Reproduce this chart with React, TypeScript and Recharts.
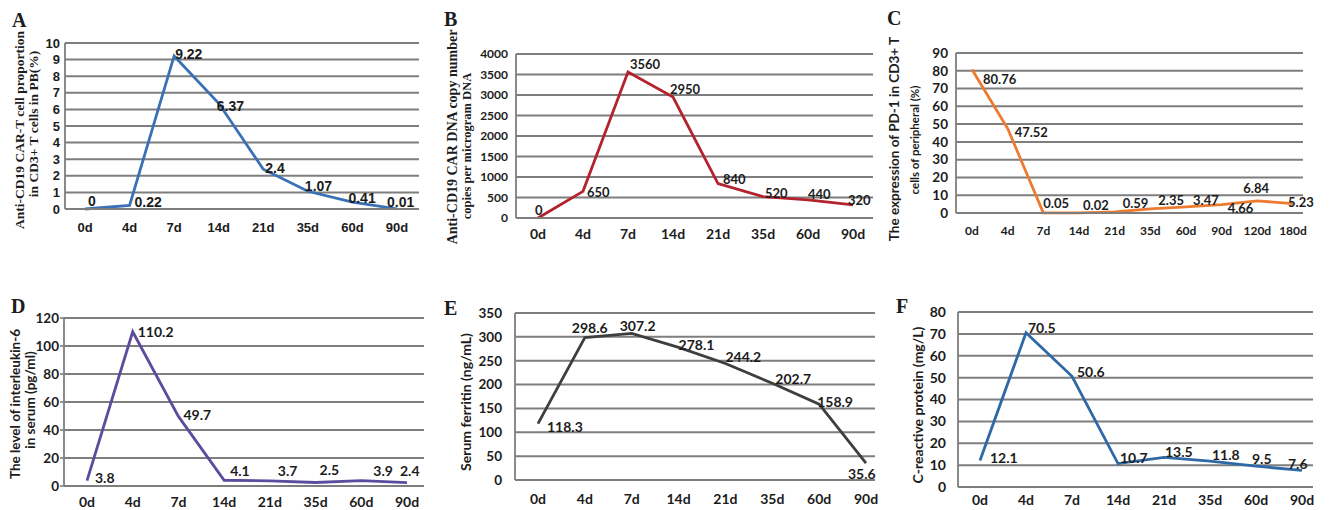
import { CartesianGrid, LabelList, Line, LineChart, XAxis, YAxis } from "recharts";

// Follow-up after CAR-T infusion: six small Excel-style line panels (A-F).
const DAYS_8 = ["0d", "4d", "7d", "14d", "21d", "35d", "60d", "90d"];
const DAYS_10 = ["0d", "4d", "7d", "14d", "21d", "35d", "60d", "90d", "120d", "180d"];

const CART_PCT = [0, 0.22, 9.22, 6.37, 2.4, 1.07, 0.41, 0.01];
const CAR_DNA = [0, 650, 3560, 2950, 840, 520, 440, 320];
const PD1_PCT = [80.76, 47.52, 0.05, 0.02, 0.59, 2.35, 3.47, 4.66, 6.84, 5.23];
const IL6 = [3.8, 110.2, 49.7, 4.1, 3.7, 2.5, 3.9, 2.4];
const FERRITIN = [118.3, 298.6, 307.2, 278.1, 244.2, 202.7, 158.9, 35.6];
const CRP = [12.1, 70.5, 50.6, 10.7, 13.5, 11.8, 9.5, 7.6];

const TICKS_A = [0, 1, 2, 3, 4, 5, 6, 7, 8, 9, 10];
const TICKS_B = [0, 500, 1000, 1500, 2000, 2500, 3000, 3500, 4000];
const TICKS_C = [0, 10, 20, 30, 40, 50, 60, 70, 80, 90];
const TICKS_D = [0, 20, 40, 60, 80, 100, 120];
const TICKS_E = [0, 50, 100, 150, 200, 250, 300, 350];
const TICKS_F = [0, 10, 20, 30, 40, 50, 60, 70, 80];

const INK = "#1c1c1c";
const GRID = "#7e7e7e";
const SANS = "Lato, 'Liberation Sans', sans-serif";
const ARIAL = "'Liberation Sans', Arial, sans-serif";
const SERIF = "'Liberation Serif', 'Times New Roman', serif";

type PanelProps = {
  box: [number, number, number, number];
  plot: [number, number, number, number];
  pad: [number, number];
  cats: string[];
  values: number[];
  ticks: number[];
  color: string;
  font: string;
  yFs: number;
  xFs: number;
  labelFs: number;
  xGap: number;
  yGap: number;
  yTick?: number;
  nudges: [number, number][];
};

function Panel(p: PanelProps) {
  const [bx, by, bw, bh] = p.box;
  const [l, t, r, b] = p.plot;
  const data = p.cats.map((d, i) => ({ d, v: p.values[i] }));
  const yTick = p.yTick ?? 0;

  const renderLabel = (props: any) => {
    const i = props.index ?? 0;
    const x = props.x ?? props.viewBox?.x;
    const y = props.y ?? props.viewBox?.y;
    const [dx, dy] = p.nudges[i] ?? [4, 2];
    return (
      <text
        key={i}
        x={x + dx}
        y={y + dy}
        fontSize={p.labelFs}
        fontWeight={700}
        fontFamily={p.font}
        fill={INK}
      >
        {props.value}
      </text>
    );
  };

  return (
    <div style={{ position: "absolute", left: bx, top: by }}>
      <LineChart
        width={bw}
        height={bh}
        data={data}
        margin={{ top: t - by, right: bx + bw - r, bottom: 0, left: 0 }}
      >
        <CartesianGrid vertical={false} stroke={GRID} strokeWidth={2} />
        <XAxis
          dataKey="d"
          height={by + bh - b}
          padding={{ left: p.pad[0], right: p.pad[1] }}
          tickLine={false}
          tickSize={0}
          tickMargin={p.xGap}
          axisLine={{ stroke: GRID, strokeWidth: 2 }}
          tick={{ fontSize: p.xFs, fontWeight: 700, fill: INK, fontFamily: p.font }}
          interval={0}
        />
        <YAxis
          width={l - bx}
          domain={[p.ticks[0], p.ticks[p.ticks.length - 1]]}
          ticks={p.ticks}
          tickLine={yTick > 0 ? { stroke: GRID, strokeWidth: 1.6 } : false}
          tickSize={yTick}
          tickMargin={p.yGap - yTick}
          axisLine={{ stroke: GRID, strokeWidth: 1.8 }}
          tick={{ fontSize: p.yFs, fontWeight: 700, fill: INK, fontFamily: p.font }}
          interval={0}
        />
        <Line
          type="linear"
          dataKey="v"
          stroke={p.color}
          strokeWidth={2.8}
          dot={false}
          activeDot={false}
          isAnimationActive={false}
        >
          <LabelList dataKey="v" content={renderLabel} />
        </Line>
      </LineChart>
    </div>
  );
}

function VTitle({ x, y, text, fs, font }: { x: number; y: number; text: string; fs: number; font: string }) {
  return (
    <text
      transform={`translate(${x},${y}) rotate(-90)`}
      textAnchor="middle"
      dominantBaseline="central"
      fontSize={fs}
      fontWeight={700}
      fontFamily={font}
      fill={INK}
    >
      {text}
    </text>
  );
}

function Letter({ x, y, ch }: { x: number; y: number; ch: string }) {
  return (
    <text x={x} y={y} fontSize={20} fontWeight={700} fontFamily={SERIF} fill={INK}>
      {ch}
    </text>
  );
}

export default function App() {
  return (
    <div
      style={{
        position: "fixed",
        left: 0,
        top: 0,
        width: 1330,
        height: 510,
        background: "#fff",
        overflow: "hidden",
      }}
    >
      <Panel
        box={[0, 0, 440, 250]}
        plot={[65, 43, 419, 209]}
        pad={[20, 22]}
        cats={DAYS_8}
        values={CART_PCT}
        ticks={TICKS_A}
        color="#3a70b5"
        font={ARIAL}
        yFs={13}
        xFs={13}
        labelFs={14}
        xGap={14}
        yGap={5}
        nudges={[[3, -3], [5, 2], [1, 3], [-2, 8], [2, 4], [-3, 0], [-4, 1], [-10, -2]]}
      />
      <Panel
        box={[440, 0, 440, 250]}
        plot={[516, 54, 873, 218]}
        pad={[22, 20]}
        cats={DAYS_8}
        values={CAR_DNA}
        ticks={TICKS_B}
        color="#b3222d"
        font={SANS}
        yFs={12}
        xFs={14}
        labelFs={13}
        xGap={11}
        yGap={8}
        nudges={[[-3, -3], [4, 6], [2, -3], [-3, -3], [5, 0], [2, 1], [0, -1], [-5, 0]]}
      />
      <Panel
        box={[880, 0, 450, 250]}
        plot={[956, 53, 1303, 213]}
        pad={[16, 10]}
        cats={DAYS_10}
        values={PD1_PCT}
        ticks={TICKS_C}
        color="#ec7a30"
        font={SANS}
        yFs={13.5}
        xFs={12}
        labelFs={13}
        xGap={13}
        yGap={8}
        nudges={[[11, 15], [7, 8], [0, -5], [4, -3], [8, -4], [8, -4], [7, -2], [6, 8], [-14, -8], [-5, 3]]}
      />
      <Panel
        box={[0, 250, 440, 260]}
        plot={[64, 318, 424, 486]}
        pad={[23, 17]}
        cats={DAYS_8}
        values={IL6}
        ticks={TICKS_D}
        color="#5d4c9e"
        font={SANS}
        yFs={13.5}
        xFs={14}
        labelFs={14}
        xGap={11}
        yGap={5}
        yTick={4}
        nudges={[[8, 2], [5, 5], [5, 4], [6, -4], [8, -5], [4, -8], [12, -5], [-7, -7]]}
      />
      <Panel
        box={[440, 250, 440, 260]}
        plot={[515, 313, 875, 480]}
        pad={[23, 9]}
        cats={DAYS_8}
        values={FERRITIN}
        ticks={TICKS_E}
        color="#3e3e3e"
        font={SANS}
        yFs={13.5}
        xFs={14}
        labelFs={14}
        xGap={14}
        yGap={13}
        nudges={[[9, 8], [-13, -5], [-12, -2], [0, 3], [0, -1], [3, 1], [-2, 3], [-18, 16]]}
      />
      <Panel
        box={[880, 250, 450, 260]}
        plot={[958, 312, 1313, 487]}
        pad={[22, 11]}
        cats={DAYS_8}
        values={CRP}
        ticks={TICKS_F}
        color="#2e69a6"
        font={SANS}
        yFs={14}
        xFs={14}
        labelFs={14}
        xGap={8}
        yGap={12}
        nudges={[[10, 2], [2, 0], [5, 1], [2, -1], [1, 0], [2, -1], [-4, -2], [-14, -1]]}
      />

      <svg
        width={1330}
        height={510}
        style={{ position: "absolute", left: 0, top: 0, pointerEvents: "none" }}
      >
        <Letter x={12} y={27} ch="A" />
        <Letter x={444} y={26} ch="B" />
        <Letter x={887} y={25} ch="C" />
        <Letter x={11} y={313} ch="D" />
        <Letter x={444} y={315} ch="E" />
        <Letter x={896} y={313} ch="F" />

        <VTitle x={19} y={130} fs={13.5} font={SERIF} text="Anti-CD19 CAR-T cell proportion" />
        <VTitle x={33} y={124} fs={13.5} font={SERIF} text="in CD3+ T cells in PB(%)" />

        <VTitle x={452} y={137} fs={14} font={SERIF} text="Anti-CD19 CAR DNA copy number" />
        <VTitle x={467} y={146} fs={12.5} font={SERIF} text="copies per microgram DNA" />

        <VTitle x={894} y={139} fs={13.5} font={SANS} text="The expression of PD-1 in CD3+ T" />
        <VTitle x={914} y={140} fs={11.5} font={SANS} text="cells of peripheral (%)" />

        <VTitle x={15} y={404} fs={13.5} font={SANS} text="The level of interleukin-6" />
        <VTitle x={30} y={400} fs={13.5} font={SANS} text="in serum (pg/ml)" />

        <VTitle x={465} y={402} fs={14} font={SANS} text="Serum ferritin (ng/mL)" />
        <VTitle x={917} y={405} fs={14} font={SANS} text="C-reactive protein (mg/L)" />
      </svg>
    </div>
  );
}
